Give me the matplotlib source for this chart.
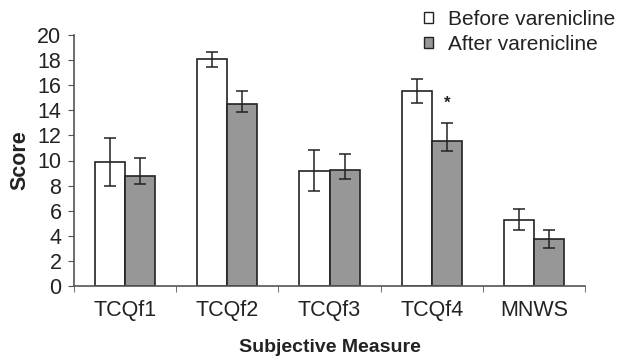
import matplotlib.pyplot as plt
import numpy as np
from matplotlib.patches import Patch

plt.rcParams["font.family"] = ["Liberation Sans", "DejaVu Sans"]

measures = ["TCQf1", "TCQf2", "TCQf3", "TCQf4", "MNWS"]
before = [9.9, 18.05, 9.2, 15.55, 5.28]
before_err = [1.9, 0.6, 1.63, 0.95, 0.85]
after = [8.78, 14.5, 9.28, 11.52, 3.72]
after_err_low = [0.65, 0.65, 0.74, 0.77, 0.72]
after_err_high = [1.45, 1.07, 1.26, 1.46, 0.74]
star_pos = (3, 14.6)

fig = plt.figure(figsize=(6.22, 3.6), dpi=100)
ax = fig.add_axes([74 / 622, 1 - 286 / 360, (585 - 74) / 622, (286 - 35) / 360])

x = np.arange(len(measures))
w = 0.295
edge = "#222222"
ax.bar(x - w / 2, before, w, color="white", edgecolor=edge, linewidth=1.2, zorder=2)
ax.bar(x + w / 2, after, w, color="#979797", edgecolor=edge, linewidth=1.2, zorder=2)
ax.errorbar(x - w / 2, before, yerr=before_err, fmt="none", ecolor=edge,
            elinewidth=1.1, capsize=4, capthick=1.1, zorder=3)
ax.errorbar(x + w / 2, after, yerr=[after_err_low, after_err_high], fmt="none",
            ecolor=edge, elinewidth=1.1, capsize=4, capthick=1.1, zorder=3)
ax.text(star_pos[0] + w / 2, star_pos[1], "*", ha="center", va="center",
        fontsize=12, fontweight="bold", color=edge)

ax.set_xlim(-0.5, len(measures) - 0.5)
ax.set_ylim(0, 20)
ax.set_yticks(range(0, 21, 2))
ax.set_xticks(x)
ax.set_xticklabels(measures)
ax.set_xticks(np.arange(-0.5, len(measures), 1), minor=True)
ax.tick_params(axis="x", which="major", length=0, pad=10, labelsize=15.5,
               labelcolor="#222222")
ax.tick_params(axis="x", which="minor", length=4, color="#555555")
ax.tick_params(axis="y", length=4, color="#555555", labelsize=15.5, pad=5,
               labelcolor="#222222")
for side in ("top", "right"):
    ax.spines[side].set_visible(False)
for side in ("left", "bottom"):
    ax.spines[side].set_color("#555555")
    ax.spines[side].set_linewidth(1.2)

ax.set_ylabel("Score", fontsize=15.5, fontweight="bold", labelpad=5, color="#222222")
ax.set_xlabel("Subjective Measure", fontsize=14, fontweight="bold", labelpad=13,
              color="#222222")

handles = [Patch(facecolor="white", edgecolor=edge, linewidth=1),
           Patch(facecolor="#979797", edgecolor=edge, linewidth=1)]
fig.legend(handles, ["Before varenicline", "After varenicline"],
           loc="upper right", bbox_to_anchor=(1.02, 1.025), frameon=False,
           fontsize=15, handlelength=0.4, handleheight=0.4, handletextpad=0.75,
           labelspacing=0.3, labelcolor="#222222")

fig.savefig("out.png", dpi=100)
